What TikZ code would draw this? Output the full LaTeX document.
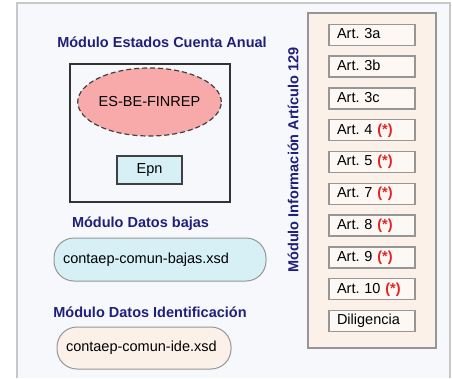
\documentclass[tikz,border=0pt]{standalone}
\usepackage{fontspec}
\setmainfont{Liberation Sans}
\usepackage{tikz}
\usetikzlibrary{
  shapes.geometric,
  shapes.misc,
  matrix,
  positioning
}
\definecolor{modtitle}{RGB}{32,32,122}
\definecolor{starred}{RGB}{228,34,34}
\definecolor{pagebg}{RGB}{246,248,252}
\definecolor{framegray}{RGB}{200,200,200}
\definecolor{boxgray}{RGB}{150,150,150}
\definecolor{finrepfill}{RGB}{248,170,170}
\definecolor{cyanfill}{RGB}{214,240,246}
\definecolor{beigefill}{RGB}{251,241,232}
\definecolor{artfill}{RGB}{253,248,244}
\newcommand{\artstar}{\textcolor{starred}{\textbf{(*)}}}

\begin{document}
\frenchspacing
\begin{tikzpicture}[
      x=1pt,y=-1pt,
      every node/.style={font=\fontsize{14.5}{16}\selectfont},
      modtitle/.style={
         text=modtitle,
         font=\fontsize{14.5}{16}\selectfont\bfseries,
         inner sep=0pt
      },
      xsdfile/.style={
         rectangle,
         rounded corners=20pt,
         draw=boxgray,
         line width=1pt,
         minimum height=42pt,
         align=left
      },
      artbox/.style={
         rectangle,
         draw=boxgray,
         fill=artfill,
         line width=1.3pt,
         minimum height=21pt,
         text width=70pt,
         inner xsep=8pt,
         inner ysep=0pt,
         text height=11pt,
         text depth=3pt,
         align=left
      },
      %text height=1.5ex,text depth=.25ex
    ]
    \useasboundingbox (0,0) rectangle (452,378);
    % outer frame, open at the bottom
    \fill[white] (0,0) rectangle (452,378);
    \fill[pagebg] (17,3) rectangle (450,378);
    \draw[framegray, line width=1.5pt] (17,378) -- (17,3) -- (450,3) -- (450,378);

    % Modulo Estados Cuenta Anual
    \node (eca) [modtitle] at (162,42) {Módulo Estados Cuenta Anual};
    \node (ecabox) [rectangle, draw=black!80, line width=1.2pt,
       minimum width=160pt, minimum height=138pt] at (150,133) {};
    \node (finrep) [ellipse, draw=black!75, dashed, line width=1.2pt,
       dash pattern=on 5pt off 3pt, fill=finrepfill,
       minimum width=127pt, minimum height=68pt, inner sep=0pt] at (149.5,102) {ES-BE-FINREP};
    \node (epn) [rectangle, draw=black!75, line width=1.3pt, fill=cyanfill,
       minimum width=65pt, minimum height=28pt] at (149.5,170) {Epn};

    % Modulo Datos bajas
    \node (bajas) [modtitle] at (140.5,224) {Módulo Datos bajas};
    \node (bajasxsd) [xsdfile, fill=cyanfill, minimum height=43pt,
       text width=194pt, inner xsep=9pt] at (160,259.5) {contaep-comun-bajas.xsd};

    % Modulo Datos Identificacion
    \node (ide) [modtitle] at (150,312) {Módulo Datos Identificación};
    \node (idexsd) [xsdfile, fill=beigefill, minimum width=174pt,
       text width=156pt, inner xsep=9pt] at (144,348) {contaep-comun-ide.xsd};

    % Modulo Informacion Articulo 129
    \node (art129box) [rectangle, draw=boxgray, line width=1.3pt, fill=beigefill,
       minimum width=128pt, minimum height=335pt] at (372,180.5) {};
    \node (art129) [modtitle, rotate=90] at (293,160) {Módulo Información Artículo 129};
    \matrix (arts) [row sep=9.5pt, inner sep=0pt, anchor=north] at (372,23.4) {
\node (a3a) [artbox] {Art. 3a}; \\
\node (a3b) [artbox] {Art. 3b}; \\
\node (a3c) [artbox] {Art. 3c}; \\
\node (a4) [artbox] {Art. 4 \artstar}; \\
\node (a5) [artbox] {Art. 5 \artstar}; \\
\node (a7) [artbox] {Art. 7 \artstar}; \\
\node (a8) [artbox] {Art. 8 \artstar}; \\
\node (a9) [artbox] {Art. 9 \artstar}; \\
\node (a10) [artbox] {Art. 10 \artstar}; \\
\node (dil) [artbox] {Diligencia}; \\
    };
\end{tikzpicture}
\end{document}
